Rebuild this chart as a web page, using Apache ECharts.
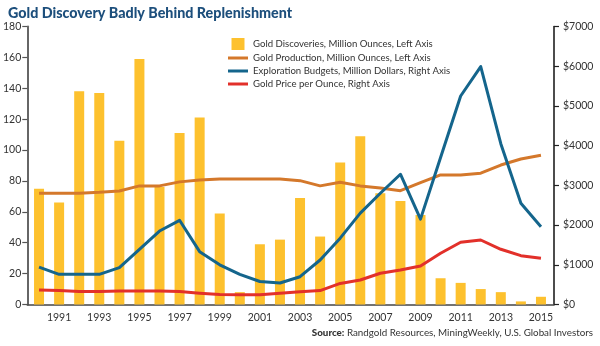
<!DOCTYPE html>
<html>
<head>
<meta charset="utf-8">
<script src="https://cdn.jsdelivr.net/npm/echarts@6/dist/echarts.min.js"></script>
<style>
  html, body { margin: 0; padding: 0; background: #fff; }
  #chart { width: 600px; height: 346px; }
</style>
</head>
<body>
<div id="chart"></div>
<script>
// Years on the category axis
const years = ['1990','1991','1992','1993','1994','1995','1996','1997','1998','1999',
  '2000','2001','2002','2003','2004','2005','2006','2007','2008','2009',
  '2010','2011','2012','2013','2014','2015'];

// Gold discoveries, million ounces (left axis)
const discoveries = [75, 66, 138, 137, 106, 159, 76, 111, 121, 59,
  8, 39, 42, 69, 44, 92, 109, 72, 67, 58,
  17, 14, 10, 8, 2, 5];

// Gold production, million ounces (left axis)
const production = [72, 72, 72, 72.7, 73.5, 76.8, 76.8, 79.4, 80.6, 81.3,
  81.3, 81.3, 81.3, 80.2, 76.8, 79.2, 76.8, 75.5, 73.7, 78.9,
  83.9, 83.9, 85, 90.3, 94.2, 96.6];

// Exploration budgets, million dollars (right axis)
const exploration = [940, 760, 760, 760, 930, 1390, 1850, 2120, 1330, 1000,
  760, 580, 540, 700, 1120, 1670, 2300, 2800, 3280, 2150,
  3700, 5250, 5990, 4050, 2550, 1960];

// Gold price per ounce, dollars (right axis)
const goldPrice = [365, 350, 330, 330, 340, 340, 340, 325, 285, 250,
  245, 245, 282, 323, 350, 530, 617, 786, 869, 970,
  1289, 1566, 1624, 1390, 1229, 1163];

// Tick settings for the two value axes
const leftMax = 180, leftStep = 20;
const rightMax = 7000, rightStep = 1000;

const FONT = 'Lato, "Open Sans", sans-serif';
const GRID_TOP = 26.5, GRID_BOTTOM = 41.5;

const chart = echarts.init(document.getElementById('chart'), null, { renderer: 'canvas' });

chart.setOption({
  animation: false,
  backgroundColor: '#ffffff',
  textStyle: { fontFamily: FONT },
  title: {
    text: 'Gold Discovery Badly Behind Replenishment',
    left: 3, top: 1,
    textStyle: { fontFamily: FONT, fontWeight: 900, fontSize: 14.3, color: '#1d4f7c' }
  },
  legend: {
    orient: 'vertical',
    left: 223, top: 33,
    itemWidth: 20, itemHeight: 12, itemGap: 3,
    symbolKeepAspect: true,
    textStyle: { fontFamily: FONT, fontSize: 9.6, color: '#333' },
    data: [
      { name: 'Gold Discoveries, Million Ounces, Left Axis', icon: 'path://M0,0h13v12h-13z' },
      { name: 'Gold Production, Million Ounces, Left Axis', icon: 'path://M0,0h20v3h-20z' },
      { name: 'Exploration Budgets, Million Dollars, Right Axis', icon: 'path://M0,0h20v3h-20z' },
      { name: 'Gold Price per Ounce, Right Axis', icon: 'path://M0,0h20v3h-20z' }
    ]
  },
  grid: [
    // frame that carries the visible axes
    { left: 23, right: 46, top: GRID_TOP, bottom: GRID_BOTTOM },
    // plotting area for the year categories
    { left: 29, right: 49, top: GRID_TOP, bottom: GRID_BOTTOM }
  ],
  xAxis: [
    {
      type: 'value', gridIndex: 0, min: 0, max: 1,
      axisLine: { show: true, lineStyle: { color: '#444', width: 1.5 } },
      axisTick: { show: false }, axisLabel: { show: false }, splitLine: { show: false }
    },
    {
      type: 'category', gridIndex: 1, data: years, boundaryGap: true,
      axisLine: { show: false }, axisTick: { show: false },
      axisLabel: {
        interval: (idx) => idx % 2 === 1,
        color: '#333', fontSize: 10.5, fontFamily: FONT, margin: 8
      },
      splitLine: { show: false }
    }
  ],
  yAxis: [
    {
      type: 'value', gridIndex: 0, position: 'left',
      min: 0, max: leftMax, interval: leftStep,
      axisLine: { show: true, lineStyle: { color: '#666', width: 2 } },
      axisTick: { show: true, length: 5, lineStyle: { color: '#555', width: 1.2 } },
      axisLabel: { color: '#333', fontSize: 10.5, fontFamily: FONT, margin: 6 },
      splitLine: { show: false }
    },
    {
      type: 'value', gridIndex: 0, position: 'right',
      min: 0, max: rightMax, interval: rightStep,
      axisLine: { show: true, lineStyle: { color: '#111', width: 1.5 } },
      axisTick: { show: true, length: 5, lineStyle: { color: '#222', width: 1.2 } },
      axisLabel: { color: '#333', fontSize: 10.5, fontFamily: FONT, margin: 9,
        formatter: (v) => '$' + v },
      splitLine: { show: false }
    },
    {
      type: 'value', gridIndex: 1, min: 0, max: leftMax, show: false, splitLine: { show: false }
    },
    {
      type: 'value', gridIndex: 1, min: 0, max: rightMax, show: false, splitLine: { show: false }
    }
  ],
  series: [
    {
      name: 'Gold Discoveries, Million Ounces, Left Axis',
      type: 'bar', xAxisIndex: 1, yAxisIndex: 2,
      data: discoveries, barWidth: 10,
      itemStyle: { color: '#fdc12e' }
    },
    {
      name: 'Gold Production, Million Ounces, Left Axis',
      type: 'line', xAxisIndex: 1, yAxisIndex: 2,
      data: production, showSymbol: false, symbol: 'none',
      lineStyle: { color: '#d4782b', width: 3 }, itemStyle: { color: '#d4782b' }
    },
    {
      name: 'Exploration Budgets, Million Dollars, Right Axis',
      type: 'line', xAxisIndex: 1, yAxisIndex: 3,
      data: exploration, showSymbol: false, symbol: 'none',
      lineStyle: { color: '#14658c', width: 3, join: 'round' }, itemStyle: { color: '#14658c' }
    },
    {
      name: 'Gold Price per Ounce, Right Axis',
      type: 'line', xAxisIndex: 1, yAxisIndex: 3,
      data: goldPrice, showSymbol: false, symbol: 'none',
      lineStyle: { color: '#e2302a', width: 3, join: 'round' }, itemStyle: { color: '#e2302a' }
    }
  ],
  graphic: [
    {
      type: 'text', right: 7, top: 327.5,
      style: {
        text: '{b|Source:} Randgold Resources, MiningWeekly, U.S. Global Investors',
        fill: '#333',
        font: '9.8px ' + FONT,
        rich: {
          b: { fontWeight: 900, fontSize: 9.8, fontFamily: FONT, fill: '#333' }
        }
      }
    }
  ]
});
</script>
</body>
</html>
